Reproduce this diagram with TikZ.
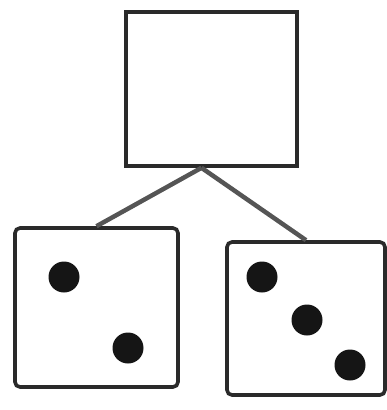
\documentclass[tikz,border=0pt]{standalone}
\usepackage{tikz}
\usetikzlibrary{positioning}
\definecolor{ink}{HTML}{2A2A2A}
\definecolor{pip}{HTML}{151515}
\tikzset{
  card/.style={draw=ink, fill=white, line width=3.6pt, inner sep=0pt},
  diebox/.style={card, rounded corners=5pt},
  dot/.style={circle, fill=pip, inner sep=0pt, minimum size=31pt},
  stem/.style={draw=ink!80, line width=4.5pt}
}
\begin{document}
\begin{tikzpicture}[x=1pt,y=-1pt]
  \useasboundingbox (0,0) rectangle (387,410);

  % top card and the two dice
  \node[card, minimum width=171pt, minimum height=154pt] (root) at (211.5,89) {};
  \node[diebox, minimum width=163pt, minimum height=159pt] (two) at (96.5,307.5) {};
  \node[diebox, minimum width=158pt, minimum height=153pt] (three) at (306,318.5) {};

  \draw[stem] ([xshift=-10pt]root.south) -- (two.north);
  \draw[stem] ([xshift=-10pt]root.south) -- (three.north);

  % pips
  \node[dot] (a1) at (64,277) {};
  \node[dot] (a2) at (128,348) {};
  \node[dot] (b1) at (262,277) {};
  \node[dot] (b2) at (307,320) {};
  \node[dot] (b3) at (350,365) {};
\end{tikzpicture}
\end{document}
